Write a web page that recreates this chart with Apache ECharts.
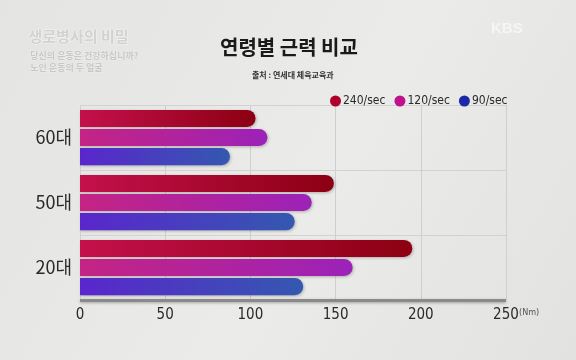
<!DOCTYPE html>
<html><head><meta charset="utf-8">
<script src="https://cdn.jsdelivr.net/npm/echarts@6/dist/echarts.min.js"></script>
<style>html,body{margin:0;padding:0;}#c{width:576px;height:360px;background:linear-gradient(120deg,#e4e4e2 0%,#ebebea 55%,#e2e2e0 100%);}</style>
</head><body><div id="c"></div>
<script>
const categories = ['60대', '50대', '20대'];
const seriesNames = ['240/sec', '120/sec', '90/sec'];
const v240 = [103, 149, 195];
const v120 = [110, 136, 160];
const v90 = [88, 126, 131];
const xTicks = [0, 50, 100, 150, 200, 250];

const chart = echarts.init(document.getElementById('c'));
function grad(a, b) {
  return new echarts.graphic.LinearGradient(0, 0, 1, 0, [{offset: 0, color: a}, {offset: 1, color: b}]);
}
const styles = [
  {legend: '#b0002c', fill: grad('#c4104c', '#8c0012')},
  {legend: '#c0108c', fill: grad('#c42484', '#9c22b8')},
  {legend: '#1c2aa8', fill: grad('#5a26cc', '#3458b0')}
];
const data = [v240, v120, v90];
const cond = "'Liberation Sans Narrow','DejaVu Sans Condensed','Liberation Sans',sans-serif";
chart.setOption({
  animation: false,
  backgroundColor: 'transparent',
  title: [
    {text: '연령별 근력 비교', left: 215, top: 32, textStyle: {fontFamily: "'Noto Sans CJK KR'", fontWeight: 'bold', fontSize: 20, color: '#1a1a1a'}},
    {text: '출처 : 연세대 체육교육과', left: 247, top: 66, textStyle: {fontFamily: "'Noto Sans CJK KR'", fontWeight: 'bold', fontSize: 8, color: '#333'}}
  ],
  graphic: [
    {type: 'text', left: 28, top: 28, style: {text: '생로병사의 비밀', fill: '#d2d2d2', stroke: '#f4f4f4', lineWidth: 1, font: "bold 15px 'Noto Sans CJK KR'"}},
    {type: 'text', left: 30, top: 51, style: {text: '당신의 운동은 건강하십니까?', fill: '#c8c8c8', stroke: '#f2f2f2', lineWidth: 0.5, font: "bold 9px 'Noto Sans CJK KR'"}},
    {type: 'text', left: 30, top: 63, style: {text: '노인 운동의 두 얼굴', fill: '#c8c8c8', stroke: '#f2f2f2', lineWidth: 0.5, font: "bold 9px 'Noto Sans CJK KR'"}},
    {type: 'text', left: 491, top: 21, style: {text: 'KBS', fill: '#f6f6f6', font: "bold 15px 'Liberation Sans'"}},
    {type: 'text', left: 519, top: 308, style: {text: '(Nm)', fill: '#555', font: "9px " + cond}}
  ],
  legend: {
    data: seriesNames.map((n, i) => ({name: n, itemStyle: {color: styles[i].legend}})),
    icon: 'circle', itemWidth: 11, itemHeight: 11, itemGap: 9,
    left: 325, top: 90,
    textStyle: {fontFamily: cond, fontSize: 12, color: '#2a2a2a', padding: [0, 0, 0, -3]}
  },
  grid: {left: 80, right: 70, top: 105, bottom: 60},
  xAxis: {
    type: 'value', min: 0, max: 250, interval: 50,
    axisLine: {show: false}, axisTick: {show: false},
    splitLine: {show: true, lineStyle: {color: '#cfcfcf', width: 1}},
    axisLabel: {color: '#2a2a2a', fontFamily: cond, fontSize: 15, margin: 8,
      formatter: v => xTicks.includes(v) ? String(v) : ''}
  },
  yAxis: {
    type: 'category', data: categories, inverse: true,
    axisLine: {show: true, onZero: false, lineStyle: {color: 'transparent'}},
    axisTick: {show: false},
    splitLine: {show: true, lineStyle: {color: '#d2d2d2', width: 1}},
    axisLabel: {color: '#2a2a2a', fontFamily: "'Noto Sans CJK KR'", fontSize: 18, margin: 8}
  },
  series: [
    ...seriesNames.map((n, i) => ({
      name: n, type: 'bar', data: data[i],
      barCategoryGap: '15%', barGap: '12%',
      itemStyle: {color: styles[i].fill, borderRadius: [0, 9, 9, 0],
        shadowBlur: 3, shadowColor: 'rgba(0,0,0,0.25)', shadowOffsetY: 1, shadowOffsetX: 1}
    })),
    {
      type: 'line', data: [], markLine: {
        silent: true, symbol: 'none', label: {show: false},
        lineStyle: {color: '#8a8a8a', width: 3, type: 'solid', shadowBlur: 3, shadowColor: 'rgba(0,0,0,0.3)', shadowOffsetY: 1},
        data: [[{coord: [0, 2], y: 300}, {coord: [250, 2], y: 300}]]
      }
    }
  ]
});
</script></body></html>
